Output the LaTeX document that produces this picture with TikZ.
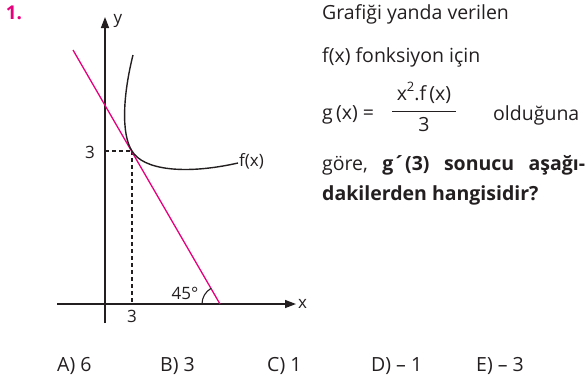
\documentclass[tikz,border=0pt]{standalone}
\usepackage{fontspec}
\setmainfont{Open Sans}
\usetikzlibrary{arrows.meta}
\definecolor{mag}{HTML}{E6007E}
\definecolor{ink}{HTML}{231F20}
\begin{document}
\begin{tikzpicture}[x=1pt,y=-1pt,
  txt/.style={inner sep=0pt,text=ink,font=\fontsize{17}{20}\selectfont},
  big/.style={inner sep=0pt,text=ink,font=\fontsize{19.5}{23}\selectfont},
  axis/.style={draw=ink,line width=1.4pt},
  guide/.style={draw=ink,line width=1.1pt,dash pattern=on 4pt off 3pt}]
\useasboundingbox (0,0) rectangle (587,384);
% title number
\node[inner sep=0pt,text=mag,font=\fontsize{19}{22}\selectfont\bfseries] (num) at (14,12.5) {1.};
% axes
\coordinate (ybot) at (105,323);
\coordinate (ytop) at (105,17);
\coordinate (xl) at (57,304);
\coordinate (xr) at (296,304);
\draw[axis,-{Triangle[length=11pt,width=8pt]}] (ybot) -- (ytop);
\draw[axis,-{Triangle[length=11pt,width=8pt]}] (xl) -- (xr);
\node[txt] (ylab) at (118,21) {y};
\node[txt,anchor=west] (xlab) at (298,304) {x};
% tangent point and guides
\coordinate (P) at (132,151);
\coordinate (Py) at (105,151);
\coordinate (Px) at (132,304);
\draw[guide] (Py) -- (P);
\draw[guide] (P) -- (Px);
\node[txt] (t3y) at (90,152) {3};
\node[txt] (t3x) at (132,316) {3};
% tangent line
\coordinate (L1) at (73,50);
\coordinate (L2) at (220,304);
\draw[mag,line width=1.3pt] (L1) -- (L2);
% angle
\draw[ink,line width=1.1pt] (202,304) arc[start angle=180,end angle=240,radius=18];
\node[txt] (ang) at (185,293) {45°};
% curve
\coordinate (C0) at (133,55);
\coordinate (C2) at (238,163);
\draw[ink,line width=1.4pt] (C0) .. controls (123,95) and (121,134) .. (P)
  .. controls (143,170) and (185,175) .. (C2);
\node[txt,anchor=west] (flab) at (239,161) {f(x)};
% right text
\node[big,anchor=base west] (l1) at (322,19) {Grafiği yanda verilen};
\node[big,anchor=base west] (l2) at (322,62) {f(x) fonksiyon için};
\node[big,anchor=west] (gx) at (322,115) {g\,(x) =};
\node[big] (numr) at (424,93) {x\raisebox{0.45em}{\fontsize{13}{15}\selectfont 2}.f\,(x)};
\draw[ink,line width=0.9pt] (392,111) -- (456,111);
\node[big] (den) at (424,125) {3};
\node[big,anchor=west] (ol) at (493,115) {olduğuna};
\node[big,anchor=base west] (l4) at (322,170) {\hbox to 263pt{göre,\hfill\textbf{g´(3)}\hfill\textbf{sonucu}\hfill\textbf{aşağı-}}};
\node[big,anchor=base west] (l5) at (322,200) {\textbf{dakilerden hangisidir?}};
% answers
\node[big,anchor=west] (a) at (57,366) {A) 6};
\node[big,anchor=west] (b) at (160,366) {B) 3};
\node[big,anchor=west] (c) at (267,366) {C) 1};
\node[big,anchor=west] (d) at (371,366) {D) – 1};
\node[big,anchor=west] (e) at (476,366) {E) – 3};
\end{tikzpicture}
\end{document}
